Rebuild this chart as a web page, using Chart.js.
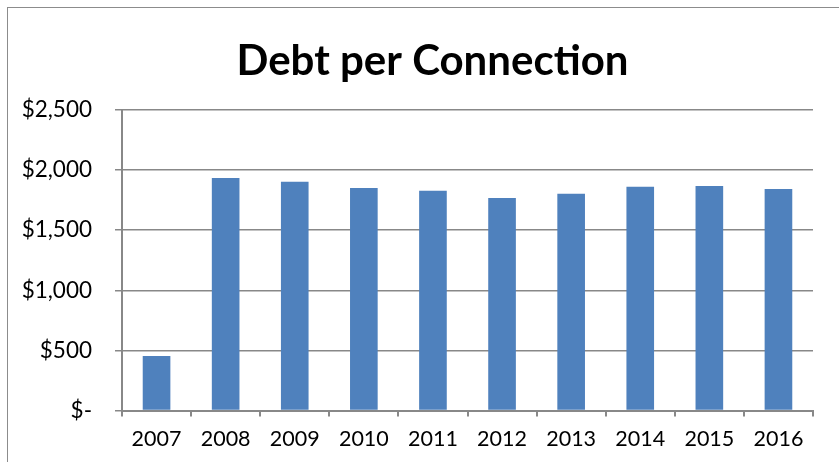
<!DOCTYPE html>
<html>
<head>
<meta charset="utf-8">
<script src="https://cdn.jsdelivr.net/npm/chart.js@4/dist/chart.umd.min.js"></script>
<style>
  html, body { margin: 0; padding: 0; background: #fff; overflow: hidden; }
  #wrap { position: absolute; left: 0; top: 0; width: 839px; height: 462px; }
  #frame { position: absolute; left: 7px; top: 7px; width: 900px; height: 500px; border: 1px solid #8c8c8c; box-sizing: border-box; }
  canvas { position: absolute; left: 0; top: 0; }
</style>
</head>
<body>
<div id="wrap">
  <div id="frame"></div>
  <canvas id="c" width="839" height="462"></canvas>
</div>
<script>
const categories = ["2007", "2008", "2009", "2010", "2011", "2012", "2013", "2014", "2015", "2016"];
const debtPerConnection = [454, 1934, 1903, 1851, 1828, 1768, 1803, 1861, 1867, 1842];
const yTickValues = [0, 500, 1000, 1500, 2000, 2500];
const chartTitle = "Debt per Connection";

const FONT = "Lato, 'Open Sans', sans-serif";

function fmt(v) {
  if (v === 0) return "$-";
  return "$" + v.toLocaleString("en-US");
}

// shift the title block so it is centred on the outer chart frame
const titleShift = {
  id: "titleShift",
  afterLayout(chart) {
    const tb = chart.titleBlock;
    if (tb) { tb.left += 26; tb.right += 26; }
  }
};

new Chart(document.getElementById("c"), {
  type: "bar",
  data: {
    labels: categories,
    datasets: [{
      data: debtPerConnection,
      backgroundColor: "#4F81BD",
      borderWidth: 0,
      categoryPercentage: 1.0,
      barPercentage: 0.4
    }]
  },
  plugins: [titleShift],
  options: {
    responsive: false,
    animation: false,
    events: [],
    layout: { padding: { left: 0, right: 26, top: 0, bottom: 0 } },
    plugins: {
      legend: { display: false },
      tooltip: { enabled: false },
      title: {
        display: true,
        text: chartTitle,
        color: "#000",
        font: { family: FONT, size: 42, weight: "bold" },
        padding: { top: 36, bottom: 23.6 }
      }
    },
    scales: {
      x: {
        grid: {
          display: true,
          drawOnChartArea: false,
          drawTicks: true,
          tickLength: 6,
          color: "#888888",
          lineWidth: 2,
          offset: true
        },
        border: { display: true, color: "#888888", width: 2 },
        ticks: {
          color: "#000",
          font: { family: FONT, size: 21.5 },
          padding: 10,
          maxRotation: 0
        },
        afterFit(s) { s.height = 51.5; }
      },
      y: {
        min: 0,
        max: 2500,
        afterBuildTicks(s) { s.ticks = yTickValues.map(v => ({ value: v })); },
        grid: {
          color: "#888888",
          lineWidth: 1.5,
          drawTicks: true,
          tickLength: 7
        },
        border: { display: true, color: "#888888", width: 2 },
        ticks: {
          color: "#000",
          font: { family: FONT, size: 22.5 },
          padding: 23,
          callback: (v) => fmt(v)
        },
        afterFit(s) { s.width = 122; }
      }
    }
  }
});
</script>
</body>
</html>
